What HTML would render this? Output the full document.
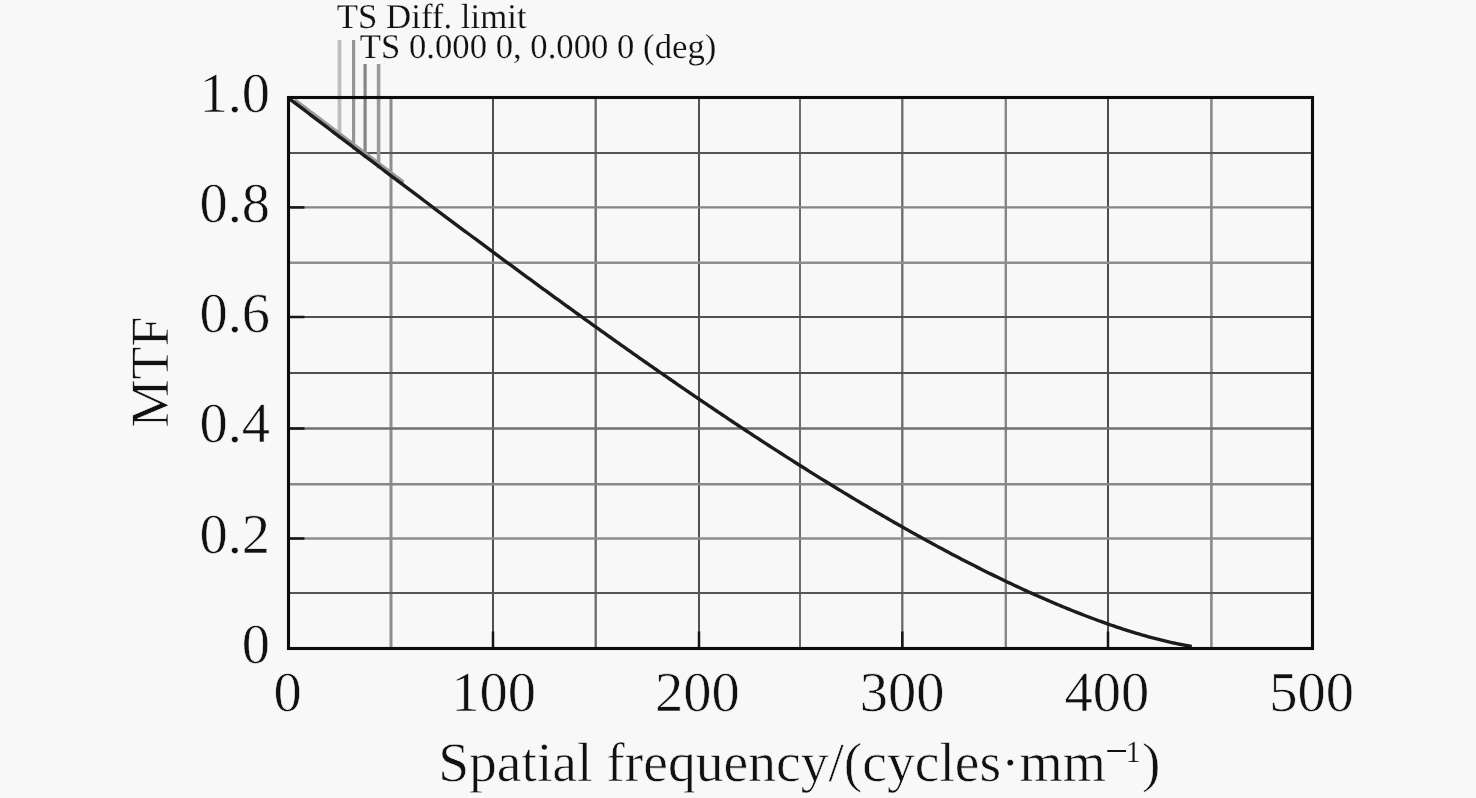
<!DOCTYPE html>
<html><head><meta charset="utf-8"><style>
html,body{margin:0;padding:0;background:#f8f8f8;}
body{width:1476px;height:798px;overflow:hidden;}
svg{display:block;will-change:transform;}
text{text-rendering:geometricPrecision;stroke:#f8f8f8;stroke-width:0.6px;paint-order:fill;}
text{font-family:"Liberation Serif", serif;fill:#111;}
</style></head><body>
<svg width="1476" height="798" viewBox="0 0 1476 798">
<rect x="0" y="0" width="1476" height="798" fill="#f8f8f8"/>
<g stroke="#5e5e5e" stroke-width="2.2" fill="none">
<line x1="391.0" y1="97.5" x2="391.0" y2="648.5" stroke="#8e8e8e" stroke-width="3.0"/>
<line x1="493.0" y1="97.5" x2="493.0" y2="648.5" stroke="#505050" stroke-width="2"/>
<line x1="595.7" y1="97.5" x2="595.7" y2="648.5" stroke="#6a6a6a" stroke-width="2.3"/>
<line x1="699.0" y1="97.5" x2="699.0" y2="648.5" stroke="#525252" stroke-width="2"/>
<line x1="800.0" y1="97.5" x2="800.0" y2="648.5" stroke="#5e5e5e" stroke-width="1.8"/>
<line x1="902.3" y1="97.5" x2="902.3" y2="648.5" stroke="#6a6a6a" stroke-width="2.3"/>
<line x1="1005.8" y1="97.5" x2="1005.8" y2="648.5" stroke="#858585" stroke-width="2.4"/>
<line x1="1108.0" y1="97.5" x2="1108.0" y2="648.5" stroke="#4c4c4c" stroke-width="2"/>
<line x1="1211.4" y1="97.5" x2="1211.4" y2="648.5" stroke="#8a8a8a" stroke-width="2.6"/>
<line x1="288.5" y1="153.0" x2="1312.5" y2="153.0" stroke="#555555" stroke-width="2"/>
<line x1="288.5" y1="207.4" x2="1312.5" y2="207.4" stroke="#858585" stroke-width="2.4"/>
<line x1="288.5" y1="262.8" x2="1312.5" y2="262.8" stroke="#8e8e8e" stroke-width="2.4"/>
<line x1="288.5" y1="317.0" x2="1312.5" y2="317.0" stroke="#505050" stroke-width="2"/>
<line x1="288.5" y1="373.0" x2="1312.5" y2="373.0" stroke="#505050" stroke-width="2"/>
<line x1="288.5" y1="428.5" x2="1312.5" y2="428.5" stroke="#707070" stroke-width="2.4"/>
<line x1="288.5" y1="484.3" x2="1312.5" y2="484.3" stroke="#888888" stroke-width="2.6"/>
<line x1="288.5" y1="538.5" x2="1312.5" y2="538.5" stroke="#8e8e8e" stroke-width="2.6"/>
<line x1="288.5" y1="593.0" x2="1312.5" y2="593.0" stroke="#565656" stroke-width="2"/>
</g>
<g stroke="#161616" stroke-width="2.5" fill="none">
<line x1="493.00" y1="648.5" x2="493.00" y2="631.5"/>
<line x1="699.00" y1="648.5" x2="699.00" y2="631.5"/>
<line x1="902.30" y1="648.5" x2="902.30" y2="631.5"/>
<line x1="1108.00" y1="648.5" x2="1108.00" y2="631.5"/>
<line x1="288.5" y1="538.50" x2="304.5" y2="538.50"/>
<line x1="288.5" y1="428.50" x2="304.5" y2="428.50"/>
<line x1="288.5" y1="317.00" x2="304.5" y2="317.00"/>
<line x1="288.5" y1="207.40" x2="304.5" y2="207.40"/>
</g>
<line x1="339.5" y1="40" x2="339.5" y2="138.77" stroke="#bdbdbd" stroke-width="3.8"/>
<line x1="353.6" y1="40" x2="353.6" y2="149.45" stroke="#959595" stroke-width="3.2"/>
<line x1="365.1" y1="64" x2="365.1" y2="158.16" stroke="#858585" stroke-width="3.2"/>
<line x1="378.6" y1="64" x2="378.6" y2="168.36" stroke="#9a9a9a" stroke-width="3.6"/>
<path d="M295.95,100.73 L297.73,102.07 L299.50,103.42 L301.28,104.77 L303.06,106.12 L304.83,107.47 L306.61,108.82 L308.39,110.17 L310.16,111.52 L311.94,112.86 L313.72,114.21 L315.49,115.56 L317.27,116.91 L319.05,118.26 L320.82,119.60 L322.60,120.95 L324.38,122.30 L326.15,123.65 L327.93,125.00 L329.71,126.34 L331.48,127.69 L333.26,129.04 L335.04,130.39 L336.81,131.73 L338.59,133.08 L340.37,134.43 L342.14,135.77 L343.92,137.12 L345.70,138.47 L347.47,139.81 L349.25,141.16 L351.03,142.50 L352.80,143.85 L354.58,145.19 L356.36,146.54 L358.13,147.89 L359.91,149.23 L361.69,150.57 L363.46,151.92 L365.24,153.26 L367.02,154.61 L368.79,155.95 L370.57,157.29 L372.35,158.64 L374.12,159.98 L375.90,161.32 L377.68,162.67 L379.45,164.01 L381.23,165.35 L383.01,166.69 L384.78,168.03 L386.56,169.38 L388.34,170.72 L390.11,172.06 L391.89,173.40 L393.67,174.74 L395.44,176.08 L397.22,177.42 L399.00,178.76 L400.77,180.10 L402.55,181.43" stroke="#9a9a9a" stroke-width="3.5" fill="none" stroke-linecap="round"/>
<path d="M288.77,98.28 L290.78,99.80 L292.79,101.33 L294.80,102.85 L296.80,104.37 L298.81,105.90 L300.82,107.42 L302.82,108.94 L304.83,110.47 L306.84,111.99 L308.84,113.51 L310.85,115.04 L312.86,116.56 L314.86,118.08 L316.87,119.60 L318.88,121.13 L320.88,122.65 L322.89,124.17 L324.90,125.69 L326.90,127.22 L328.91,128.74 L330.92,130.26 L332.92,131.78 L334.93,133.30 L336.94,134.83 L338.94,136.35 L340.95,137.87 L342.96,139.39 L344.96,140.91 L346.97,142.43 L348.98,143.95 L350.98,145.47 L352.99,146.99 L355.00,148.51 L357.00,150.03 L359.01,151.55 L361.02,153.07 L363.02,154.59 L365.03,156.10 L367.04,157.62 L369.04,159.14 L371.05,160.66 L373.06,162.18 L375.06,163.69 L377.07,165.21 L379.08,166.73 L381.08,168.24 L383.09,169.76 L385.10,171.27 L387.10,172.79 L389.11,174.30 L391.12,175.82 L393.12,177.33 L395.13,178.84 L397.14,180.36 L399.14,181.87 L401.15,183.38 L403.16,184.89 L405.16,186.40 L407.17,187.92 L409.18,189.43 L411.19,190.94 L413.19,192.45 L415.20,193.95 L417.21,195.46 L419.21,196.97 L421.22,198.48 L423.23,199.99 L425.23,201.49 L427.24,203.00 L429.25,204.51 L431.25,206.01 L433.26,207.52 L435.27,209.02 L437.27,210.52 L439.28,212.03 L441.29,213.53 L443.29,215.03 L445.30,216.53 L447.31,218.03 L449.31,219.54 L451.32,221.03 L453.33,222.53 L455.33,224.03 L457.34,225.53 L459.35,227.03 L461.35,228.52 L463.36,230.02 L465.37,231.52 L467.37,233.01 L469.38,234.51 L471.39,236.00 L473.39,237.49 L475.40,238.98 L477.41,240.48 L479.41,241.97 L481.42,243.46 L483.43,244.95 L485.43,246.43 L487.44,247.92 L489.45,249.41 L491.45,250.90 L493.46,252.38 L495.47,253.87 L497.47,255.35 L499.48,256.83 L501.49,258.32 L503.49,259.80 L505.50,261.28 L507.51,262.76 L509.51,264.24 L511.52,265.72 L513.53,267.20 L515.53,268.67 L517.54,270.15 L519.55,271.62 L521.55,273.10 L523.56,274.57 L525.57,276.04 L527.57,277.52 L529.58,278.99 L531.59,280.46 L533.60,281.93 L535.60,283.39 L537.61,284.86 L539.62,286.33 L541.62,287.79 L543.63,289.26 L545.64,290.72 L547.64,292.18 L549.65,293.65 L551.66,295.11 L553.66,296.57 L555.67,298.02 L557.68,299.48 L559.68,300.94 L561.69,302.39 L563.70,303.85 L565.70,305.30 L567.71,306.75 L569.72,308.21 L571.72,309.66 L573.73,311.11 L575.74,312.55 L577.74,314.00 L579.75,315.45 L581.76,316.89 L583.76,318.34 L585.77,319.78 L587.78,321.22 L589.78,322.66 L591.79,324.10 L593.80,325.54 L595.80,326.98 L597.81,328.41 L599.82,329.85 L601.82,331.28 L603.83,332.71 L605.84,334.14 L607.84,335.57 L609.85,337.00 L611.86,338.43 L613.86,339.85 L615.87,341.28 L617.88,342.70 L619.88,344.13 L621.89,345.55 L623.90,346.97 L625.90,348.38 L627.91,349.80 L629.92,351.22 L631.92,352.63 L633.93,354.05 L635.94,355.46 L637.94,356.87 L639.95,358.28 L641.96,359.69 L643.96,361.09 L645.97,362.50 L647.98,363.90 L649.99,365.30 L651.99,366.70 L654.00,368.10 L656.01,369.50 L658.01,370.90 L660.02,372.29 L662.03,373.69 L664.03,375.08 L666.04,376.47 L668.05,377.86 L670.05,379.25 L672.06,380.63 L674.07,382.02 L676.07,383.40 L678.08,384.78 L680.09,386.16 L682.09,387.54 L684.10,388.92 L686.11,390.29 L688.11,391.67 L690.12,393.04 L692.13,394.41 L694.13,395.78 L696.14,397.15 L698.15,398.51 L700.15,399.88 L702.16,401.24 L704.17,402.60 L706.17,403.96 L708.18,405.32 L710.19,406.67 L712.19,408.03 L714.20,409.38 L716.21,410.73 L718.21,412.08 L720.22,413.43 L722.23,414.77 L724.23,416.12 L726.24,417.46 L728.25,418.80 L730.25,420.14 L732.26,421.47 L734.27,422.81 L736.27,424.14 L738.28,425.47 L740.29,426.80 L742.29,428.13 L744.30,429.46 L746.31,430.78 L748.31,432.10 L750.32,433.42 L752.33,434.74 L754.33,436.05 L756.34,437.37 L758.35,438.68 L760.35,439.99 L762.36,441.30 L764.37,442.61 L766.37,443.91 L768.38,445.21 L770.39,446.51 L772.40,447.81 L774.40,449.11 L776.41,450.40 L778.42,451.69 L780.42,452.98 L782.43,454.27 L784.44,455.56 L786.44,456.84 L788.45,458.12 L790.46,459.40 L792.46,460.68 L794.47,461.95 L796.48,463.23 L798.48,464.50 L800.49,465.77 L802.50,467.03 L804.50,468.30 L806.51,469.56 L808.52,470.82 L810.52,472.08 L812.53,473.33 L814.54,474.58 L816.54,475.83 L818.55,477.08 L820.56,478.33 L822.56,479.57 L824.57,480.81 L826.58,482.05 L828.58,483.29 L830.59,484.52 L832.60,485.75 L834.60,486.98 L836.61,488.21 L838.62,489.44 L840.62,490.66 L842.63,491.88 L844.64,493.09 L846.64,494.31 L848.65,495.52 L850.66,496.73 L852.66,497.94 L854.67,499.14 L856.68,500.34 L858.68,501.54 L860.69,502.74 L862.70,503.93 L864.70,505.12 L866.71,506.31 L868.72,507.50 L870.72,508.68 L872.73,509.86 L874.74,511.04 L876.74,512.22 L878.75,513.39 L880.76,514.56 L882.76,515.73 L884.77,516.89 L886.78,518.05 L888.78,519.21 L890.79,520.37 L892.80,521.52 L894.81,522.67 L896.81,523.82 L898.82,524.96 L900.83,526.10 L902.83,527.24 L904.84,528.38 L906.85,529.51 L908.85,530.64 L910.86,531.76 L912.87,532.89 L914.87,534.01 L916.88,535.13 L918.89,536.24 L920.89,537.35 L922.90,538.46 L924.91,539.57 L926.91,540.67 L928.92,541.77 L930.93,542.86 L932.93,543.95 L934.94,545.04 L936.95,546.13 L938.95,547.21 L940.96,548.29 L942.97,549.37 L944.97,550.44 L946.98,551.51 L948.99,552.57 L950.99,553.64 L953.00,554.70 L955.01,555.75 L957.01,556.80 L959.02,557.85 L961.03,558.90 L963.03,559.94 L965.04,560.98 L967.05,562.01 L969.05,563.04 L971.06,564.07 L973.07,565.09 L975.07,566.11 L977.08,567.13 L979.09,568.14 L981.09,569.15 L983.10,570.16 L985.11,571.16 L987.11,572.16 L989.12,573.15 L991.13,574.14 L993.13,575.13 L995.14,576.11 L997.15,577.09 L999.15,578.06 L1001.16,579.03 L1003.17,580.00 L1005.17,580.96 L1007.18,581.92 L1009.19,582.87 L1011.20,583.82 L1013.20,584.77 L1015.21,585.71 L1017.22,586.65 L1019.22,587.58 L1021.23,588.51 L1023.24,589.43 L1025.24,590.35 L1027.25,591.27 L1029.26,592.18 L1031.26,593.09 L1033.27,593.99 L1035.28,594.89 L1037.28,595.78 L1039.29,596.67 L1041.30,597.55 L1043.30,598.43 L1045.31,599.31 L1047.32,600.18 L1049.32,601.04 L1051.33,601.90 L1053.34,602.76 L1055.34,603.61 L1057.35,604.46 L1059.36,605.30 L1061.36,606.13 L1063.37,606.96 L1065.38,607.79 L1067.38,608.61 L1069.39,609.42 L1071.40,610.23 L1073.40,611.04 L1075.41,611.84 L1077.42,612.63 L1079.42,613.42 L1081.43,614.20 L1083.44,614.98 L1085.44,615.75 L1087.45,616.52 L1089.46,617.28 L1091.46,618.03 L1093.47,618.78 L1095.48,619.53 L1097.48,620.26 L1099.49,620.99 L1101.50,621.72 L1103.50,622.44 L1105.51,623.15 L1107.52,623.86 L1109.52,624.56 L1111.53,625.25 L1113.54,625.94 L1115.54,626.62 L1117.55,627.29 L1119.56,627.96 L1121.56,628.62 L1123.57,629.27 L1125.58,629.92 L1127.58,630.56 L1129.59,631.19 L1131.60,631.81 L1133.61,632.43 L1135.61,633.04 L1137.62,633.64 L1139.63,634.24 L1141.63,634.82 L1143.64,635.40 L1145.65,635.97 L1147.65,636.53 L1149.66,637.09 L1151.67,637.63 L1153.67,638.17 L1155.68,638.69 L1157.69,639.21 L1159.69,639.72 L1161.70,640.22 L1163.71,640.71 L1165.71,641.19 L1167.72,641.66 L1169.73,642.12 L1171.73,642.57 L1173.74,643.01 L1175.75,643.43 L1177.75,643.85 L1179.76,644.25 L1181.77,644.65 L1183.77,645.02 L1185.78,645.39 L1187.79,645.74 L1189.79,646.08 L1191.80,646.40" stroke="#1c1c1c" stroke-width="3.4" fill="none" stroke-linejoin="round"/>
<rect x="288.5" y="97.5" width="1024.0" height="551.0" fill="none" stroke="#0c0c0c" stroke-width="3.1"/>
<g font-size="56.5">
<text x="270" y="662.70" text-anchor="end">0</text>
<text x="270" y="552.50" text-anchor="end">0.2</text>
<text x="270" y="442.30" text-anchor="end">0.4</text>
<text x="270" y="332.10" text-anchor="end">0.6</text>
<text x="270" y="221.90" text-anchor="end">0.8</text>
<text x="270" y="111.70" text-anchor="end">1.0</text>
<text x="287.70" y="710.5" text-anchor="middle">0</text>
<text x="493.50" y="710.5" text-anchor="middle">100</text>
<text x="697.30" y="710.5" text-anchor="middle">200</text>
<text x="902.10" y="710.5" text-anchor="middle">300</text>
<text x="1106.90" y="710.5" text-anchor="middle">400</text>
<text x="1311.70" y="710.5" text-anchor="middle">500</text>
</g>
<text x="438.2" y="781" font-size="55.55">Spatial frequency/(cycles·mm</text>
<rect x="1107.3" y="750" width="18.8" height="2" fill="#111"/>
<text x="1125.5" y="761.7" font-size="30.6" style="stroke-width:0.2px">1</text>
<text x="1142" y="781" font-size="55.3">)</text>
<text transform="translate(168,427.5) rotate(-90)" font-size="54">MTF</text>
<text x="336.8" y="27.8" font-size="34.8" style="stroke-width:0.2px">TS Diff. limit</text>
<text x="359.8" y="58.3" font-size="34.7" style="stroke-width:0.2px">TS 0.000 0, 0.000 0 (deg)</text>
</svg>
</body></html>
